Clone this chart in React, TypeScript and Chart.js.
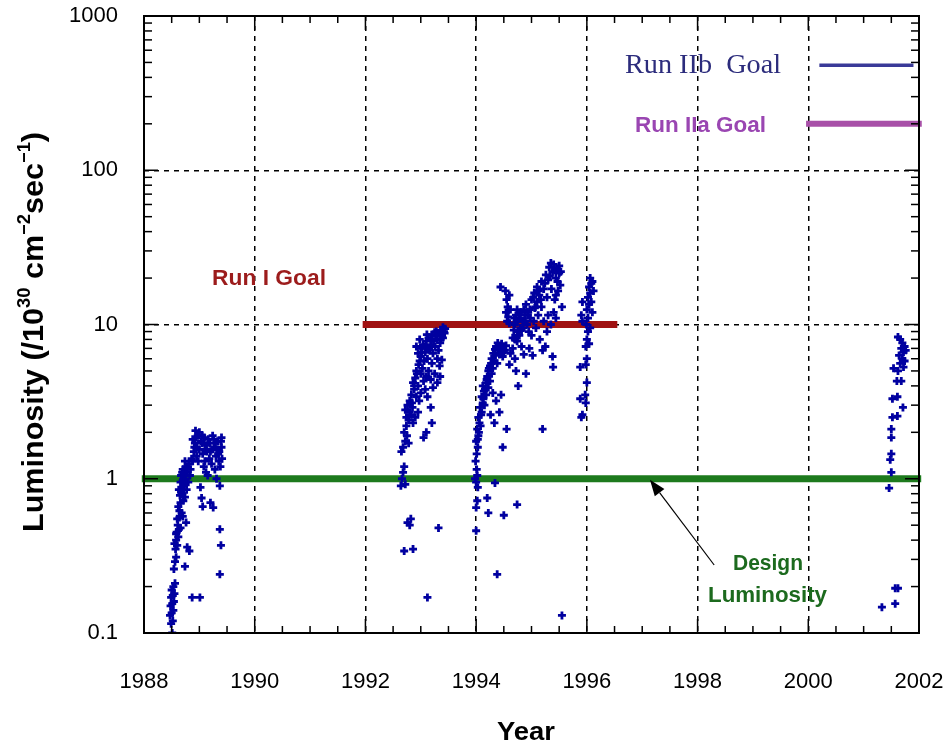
import React, { useEffect, useRef } from 'react';
import { Chart, registerables } from 'chart.js';

Chart.register(...registerables);

// ---- axis ticks ----
const xTickValues = [1988, 1990, 1992, 1994, 1996, 1998, 2000, 2002];
const xTickLabels = ['1988', '1990', '1992', '1994', '1996', '1998', '2000', '2002'];
const yTickValues = [0.1, 1, 10, 100, 1000];
const yTickLabels = ['0.1', '1', '10', '100', '1000'];

// ---- luminosity points per run period ----
const years1988 = [1988.51,1988.49,1988.52,1988.47,1988.50,1988.53,1988.48,1988.51,1988.54,1988.49,1988.52,1988.55,1988.50,1988.53,1988.56,1988.54,1988.56,1988.58,1988.74,1988.87,1989.01,1988.57,1988.60,1988.58,1988.62,1988.59,1988.63,1988.61,1988.66,1988.78,1988.82,1988.64,1988.70,1988.76,1988.68,1988.62,1988.66,1988.71,1988.65,1988.69,1988.74,1988.63,1988.68,1988.72,1988.77,1988.66,1988.70,1988.75,1988.80,1988.67,1988.73,1988.78,1988.83,1988.70,1988.76,1988.81,1988.74,1988.86,1988.90,1988.92,1988.93,1988.97,1989.00,1988.95,1989.03,1989.06,1989.10,1989.13,1989.08,1989.16,1989.20,1989.24,1989.27,1989.30,1989.33,1989.36,1989.40,1989.38,1989.41,1989.02,1989.04,1989.06,1989.20,1989.25,1989.15,1989.31,1989.37,1989.37,1989.39,1989.37,1988.98,1989.12,1989.22,1989.28,1989.35,1988.88,1988.95,1989.05,1989.10,1989.18,1989.26,1989.32,1989.40,
  1988.55,1988.58,1988.60,1988.64,1988.67,1988.72,1988.69,1988.75,1988.79,1988.84,1988.88,1988.91,1988.94,1989.00,1989.05,1989.09,1989.14,1989.19,1989.23,1989.29,1989.34,1989.39];
const lum1988 = [0.10,0.115,0.12,0.13,0.135,0.14,0.15,0.155,0.16,0.17,0.175,0.18,0.19,0.20,0.21,0.26,0.29,0.31,0.27,0.17,0.17,0.35,0.37,0.40,0.42,0.45,0.47,0.50,0.48,0.36,0.34,0.56,0.57,0.52,0.60,0.66,0.70,0.72,0.78,0.80,0.76,0.85,0.88,0.90,0.85,0.95,0.98,1.0,0.95,1.05,1.08,1.1,1.05,1.15,1.2,1.25,1.3,1.35,1.5,1.7,2.05,1.9,2.0,1.6,1.75,1.45,1.55,1.65,1.2,1.8,1.5,1.9,1.6,1.4,1.75,1.5,1.6,1.2,1.35,0.88,0.75,0.66,0.70,0.65,1.05,1.0,0.9,0.47,0.37,0.24,1.3,1.1,1.25,1.15,1.3,1.8,1.4,1.9,1.3,1.35,1.8,1.55,1.85,
  0.38,0.44,0.55,0.62,0.82,0.93,1.1,1.15,1.2,1.15,1.3,1.6,1.85,1.55,1.7,1.85,1.5,1.7,1.55,1.7,1.45,1.75];

const years1992 = [1992.64,1992.66,1992.68,1992.70,1992.72,1992.70,1992.86,1992.76,1992.80,1992.82,1993.12,1993.32,1992.65,1992.68,1992.72,1992.75,1992.78,1992.70,1992.74,1992.78,1992.82,1992.86,1992.72,1992.76,1992.80,1992.85,1992.90,1992.95,1993.05,1993.10,1992.83,1992.88,1992.92,1992.97,1993.00,1992.86,1992.90,1992.95,1993.00,1993.05,1993.08,1993.12,1993.18,1993.20,1992.92,1992.96,1993.00,1993.03,1993.06,1993.10,1993.14,1993.18,1993.22,1993.00,1993.04,1993.08,1993.12,1993.16,1993.20,1993.25,1993.30,1993.10,1993.14,1993.18,1993.22,1993.26,1993.30,1993.34,1993.20,1993.25,1993.30,1993.35,1993.38,1993.42,1993.44,1993.40,1993.36,1993.28,1993.32,1993.38,1993.35,1992.92,1992.95,1992.98,
  1992.74,1992.80,1992.84,1992.88,1992.93,1992.98,1993.02,1993.07,1993.11,1993.15,1993.19,1993.23,1993.27,1993.31,1993.36,1993.40,1993.43];
const lum1992 = [0.9,1.0,1.1,1.2,0.92,0.34,0.35,0.52,0.5,0.55,0.17,0.48,1.5,1.6,1.75,1.9,1.7,2.0,2.2,2.4,2.6,2.3,2.8,3.0,3.2,2.9,2.5,2.7,1.85,2.0,3.5,3.8,3.4,3.2,3.6,4.2,4.5,4.0,4.8,4.3,3.8,3.4,2.9,2.3,5.0,5.5,6.2,5.2,5.8,4.6,5.0,4.4,3.9,7.0,7.4,6.6,6.0,6.8,5.6,4.8,4.2,7.8,8.2,7.4,6.5,7.2,6.0,5.4,8.6,8.9,8.0,7.6,8.5,9.0,9.4,9.6,9.2,9.0,6.8,5.9,4.6,7.2,6.5,8.0,
  2.5,2.7,3.1,4.0,4.8,5.8,6.6,7.2,8.6,7.0,8.0,7.8,8.4,8.8,8.0,8.2,8.8];

const years1994 = [1993.98,1994.00,1994.02,1994.03,1994.01,1994.00,1994.02,1994.00,1994.20,1994.22,1994.34,1994.38,1994.50,1994.74,1995.55,1994.48,1994.55,1995.20,
  1993.99,1994.01,1994.03,1994.00,1994.04,1994.02,1994.06,1994.04,1994.08,1994.10,1994.07,1994.12,1994.10,1994.15,1994.14,1994.18,1994.12,1994.18,1994.22,1994.20,1994.25,1994.22,1994.28,1994.25,1994.30,1994.32,1994.28,1994.35,1994.38,1994.40,1994.36,1994.44,1994.48,1994.46,1994.50,1994.54,1994.30,1994.36,1994.42,1994.45,1994.26,1994.33,
  1994.44,1994.53,1994.55,1994.57,1994.54,1994.58,1994.56,1994.60,1994.62,1994.60,
  1994.60,1994.62,1994.66,1994.70,1994.72,1994.74,1994.76,1994.78,1994.80,1994.76,1994.82,1994.86,1994.90,1994.84,1994.88,1994.92,1994.95,1994.80,1994.86,1994.90,1994.94,1994.98,1995.00,1994.96,1995.02,1995.04,1995.06,1995.10,1995.08,1995.12,1995.15,1995.20,1995.18,1995.22,1995.25,1995.28,1995.30,1995.35,1995.38,1995.39,1995.40,1995.44,1995.42,
  1995.00,1995.05,1995.10,1995.14,1995.18,1995.22,1995.26,1995.30,1995.32,1995.35,1995.38,1995.40,1995.44,1995.46,1995.50,1995.52,1995.48,1995.55,1995.50,1995.36,1995.28,1995.44,
  1994.70,1994.72,1994.74,1994.78,1994.82,1994.74,1994.68,1994.70,
  1994.03,1994.05,1994.09,1994.13,1994.16,1994.19,1994.23,1994.27,1994.31,1994.34,1994.39,1994.42,1994.47,1994.52,1994.66,1994.69,1994.73,1994.77,1994.81,1994.85,1994.89,1994.93,1994.97,1995.03,1995.07,1995.13,1995.17,1995.24,1995.33,1995.42,1995.47,1995.53];
const lum1994 = [1.0,0.95,1.05,0.88,1.15,0.65,0.72,0.46,0.75,0.6,0.94,0.24,0.58,0.68,0.13,1.6,2.1,2.1,
  1.3,1.45,1.6,1.75,1.9,2.1,2.3,2.5,2.2,2.7,2.9,3.1,3.4,3.0,3.7,3.5,4.0,4.2,3.9,4.6,4.3,5.0,4.8,5.4,5.2,5.8,6.0,6.3,5.6,6.8,7.2,7.0,6.2,7.5,6.6,7.3,3.6,3.2,2.7,3.5,2.6,2.3,
  17.5,16.5,14.5,13.0,12.0,11.2,10.5,15.5,12.5,10.2,
  5.5,6.5,7.0,6.0,5.0,7.8,4.0,8.5,9.5,9.0,7.2,6.4,4.8,10.5,11.5,10.0,9.0,11.0,12.5,13.5,12.0,11.0,8.5,7.0,6.3,10.5,12.8,14.0,9.5,11.5,8.0,6.8,13.0,10.5,7.2,9.0,11.5,10.0,6.2,5.3,12.0,11.0,14.5,
  14.5,16.0,17.5,15.5,19.0,17.0,21.0,19.5,23.5,25.0,22.0,24.5,20.0,23.0,21.5,18.0,16.5,13.0,24.0,17.0,15.0,15.5,
  10.0,11.5,12.5,10.8,9.2,8.5,9.2,8.0,
  1.8,2.0,2.6,3.3,3.8,4.4,5.2,5.6,6.5,6.9,7.6,6.4,7.0,6.8,8.2,11.0,10.5,11.8,12.0,9.5,10.5,11.5,12.5,15.0,13.0,16.5,14.5,18.5,20.5,22.5,19.0,22.0];

const years1996 = [1995.88,1995.88,1995.90,1995.92,1995.92,1995.90,1995.92,1995.97,1995.98,1996.00,1995.98,1996.00,1995.98,1996.00,1996.02,1995.99,1996.02,1996.00,1996.04,1996.02,1996.06,1996.04,1996.08,1996.06,1996.10,1996.08,1996.10,1996.06,1996.04,1996.12];
const lum1996 = [5.3,3.3,2.5,2.6,14.0,11.5,10.5,3.5,3.1,4.2,5.5,6.0,7.2,8.0,9.0,10.0,11.0,12.5,13.5,15.0,16.0,17.5,18.5,20.0,19.0,14.0,12.0,9.5,7.5,16.5];

const years2001 = [2001.33,2001.57,2001.57,2001.62,2001.46,2001.50,2001.48,2001.50,2001.50,2001.50,2001.52,2001.61,2001.71,2001.52,2001.61,2001.60,2001.68,2001.54,2001.62,2001.66,2001.70,2001.64,2001.72,2001.68,2001.74,2001.70,2001.66,2001.62,2001.76,2001.74,2001.72];
const lum2001 = [0.147,0.155,0.195,0.195,0.87,1.1,1.33,1.45,1.85,2.1,2.5,2.55,2.9,3.3,3.4,4.3,4.3,5.2,5.0,5.6,6.0,6.3,6.6,7.0,7.2,7.6,8.0,8.3,6.8,5.8,5.3];

// ---- goal lines ----
const runIGoalYears = [1991.95, 1996.55];
const runIGoalLevel = 10;
const runIIaGoalYears = [1999.96, 2002.05];
const runIIaGoalLevel = 200;
const runIIbGoalYears = [2000.2, 2001.9];
const runIIbGoalLevel = 480;
const designYears = [1987.96, 2002.04];
const designLevel = 1;

// ---- texts ----
const xTitle = 'Year';
const yTitleParts = [
  { t: 'Luminosity (/10', sup: false },
  { t: '30', sup: true },
  { t: ' cm', sup: false },
  { t: '\u22122', sup: true },
  { t: 'sec', sup: false },
  { t: '\u22121', sup: true },
  { t: ')', sup: false },
];
const labelRunIIb = 'Run IIb  Goal';
const labelRunIIa = 'Run IIa Goal';
const labelRunI = 'Run I Goal';
const labelDesign1 = 'Design';
const labelDesign2 = 'Luminosity';

const SANS = '"Liberation Sans", Arial, Helvetica, sans-serif';
const SERIF = '"Liberation Serif", "Times New Roman", serif';

function pts(xs: number[], ys: number[]) {
  return xs.map((x, i) => ({ x, y: ys[i] }));
}

function fitText(ctx: CanvasRenderingContext2D, text: string, x: number, y: number, w: number) {
  const m = ctx.measureText(text).width;
  const s = w / m;
  ctx.save();
  ctx.translate(x, y);
  ctx.scale(s, 1);
  ctx.textAlign = 'left';
  ctx.fillText(text, 0, 0);
  ctx.restore();
}

const decorPlugin = {
  id: 'decor',
  afterDraw(chart: any) {
    const { ctx, chartArea: a, scales } = chart;
    const xs = scales.x;
    const ys = scales.y;
    ctx.save();
    ctx.strokeStyle = '#000';
    ctx.lineWidth = 1.5;
    const seg = (x1: number, y1: number, x2: number, y2: number) => {
      ctx.beginPath();
      ctx.moveTo(x1, y1);
      ctx.lineTo(x2, y2);
      ctx.stroke();
    };
    // x ticks (every half year)
    for (let k = 0; k <= 28; k++) {
      const v = 1988 + k * 0.5;
      const px = xs.getPixelForValue(v);
      const len = k % 4 === 0 ? 14 : 7;
      seg(px, a.bottom, px, a.bottom - len);
      seg(px, a.top, px, a.top + len);
    }
    // y ticks (log)
    for (const d of [0.1, 1, 10, 100]) {
      for (let m = 1; m <= 9; m++) {
        const py = ys.getPixelForValue(d * m);
        const len = m === 1 ? 14 : 8;
        seg(a.left, py, a.left + len, py);
        seg(a.right, py, a.right - len, py);
      }
    }
    // frame
    ctx.lineWidth = 2;
    ctx.strokeRect(a.left, a.top, a.right - a.left, a.bottom - a.top);

    // arrow to design luminosity line
    const tipX = xs.getPixelForValue(1997.14);
    const tipY = ys.getPixelForValue(0.985);
    const tailX = xs.getPixelForValue(1998.3);
    const tailY = ys.getPixelForValue(0.276);
    ctx.lineWidth = 1.2;
    const ang = Math.atan2(tipY - tailY, tipX - tailX);
    const hl = 16, hw = 6;
    const bx = tipX - hl * Math.cos(ang), by = tipY - hl * Math.sin(ang);
    seg(tailX, tailY, bx, by);
    ctx.fillStyle = '#000';
    ctx.beginPath();
    ctx.moveTo(tipX, tipY);
    ctx.lineTo(bx + hw * Math.sin(ang), by - hw * Math.cos(ang));
    ctx.lineTo(bx - hw * Math.sin(ang), by + hw * Math.cos(ang));
    ctx.closePath();
    ctx.fill();

    // annotation texts
    ctx.textBaseline = 'alphabetic';
    ctx.fillStyle = '#2c2c7c';
    ctx.font = `27px ${SERIF}`;
    fitText(ctx, labelRunIIb, 625, 73, 156);

    ctx.fillStyle = '#9a46b2';
    ctx.font = `bold 22px ${SANS}`;
    fitText(ctx, labelRunIIa, 635, 132, 131);

    ctx.fillStyle = '#9c1c1c';
    ctx.font = `bold 22px ${SANS}`;
    fitText(ctx, labelRunI, 212, 285, 114);

    ctx.fillStyle = '#1c6a1e';
    ctx.font = `bold 22px ${SANS}`;
    fitText(ctx, labelDesign1, 733, 570, 70);
    fitText(ctx, labelDesign2, 708, 602, 119);

    // x title
    ctx.fillStyle = '#000';
    ctx.font = `bold 26px ${SANS}`;
    fitText(ctx, xTitle, 497, 740, 58);

    // y title (rotated, with superscripts)
    const big = `bold 30px ${SANS}`;
    const small = `bold 18px ${SANS}`;
    let total = 0;
    const widths = yTitleParts.map((p) => {
      ctx.font = p.sup ? small : big;
      const w = ctx.measureText(p.t).width;
      total += w;
      return w;
    });
    const span = 400;
    const sc = span / total;
    ctx.save();
    ctx.translate(43, 532);
    ctx.rotate(-Math.PI / 2);
    ctx.scale(sc, 1);
    let cx = 0;
    yTitleParts.forEach((p, i) => {
      ctx.font = p.sup ? small : big;
      ctx.fillText(p.t, cx, p.sup ? -13 : 0);
      cx += widths[i];
    });
    ctx.restore();

    ctx.restore();
  },
};

export default function App() {
  const ref = useRef<HTMLCanvasElement | null>(null);
  useEffect(() => {
    const canvas = ref.current;
    if (!canvas) return;
    const pointStyle = {
      pointStyle: 'cross',
      pointRadius: 4,
      pointBorderWidth: 2.8,
      pointBorderColor: '#0000a0',
      pointBackgroundColor: '#0000a0',
      showLine: false,
      order: 0,
    };
    const goal = (xsArr: number[], level: number, color: string, width: number) => ({
      data: xsArr.map((x) => ({ x, y: level })),
      showLine: true,
      borderColor: color,
      borderWidth: width,
      borderCapStyle: 'butt',
      pointRadius: 0,
      clip: false,
      order: 1,
    });
    const chart = new Chart(canvas, {
      type: 'scatter',
      data: {
        datasets: [
          goal(designYears, designLevel, '#1d7a1d', 7) as any,
          goal(runIGoalYears, runIGoalLevel, '#a01212', 7) as any,
          goal(runIIaGoalYears, runIIaGoalLevel, '#a850a8', 6) as any,
          goal(runIIbGoalYears, runIIbGoalLevel, '#3a3a98', 3.5) as any,
          { data: pts(years1988, lum1988), ...pointStyle } as any,
          { data: pts(years1992, lum1992), ...pointStyle } as any,
          { data: pts(years1994, lum1994), ...pointStyle } as any,
          { data: pts(years1996, lum1996), ...pointStyle } as any,
          { data: pts(years2001, lum2001), ...pointStyle } as any,
        ],
      },
      options: {
        responsive: false,
        animation: false,
        events: [],
        layout: { padding: { top: 16, right: 26, left: 0, bottom: 0 } },
        plugins: { legend: { display: false }, tooltip: { enabled: false }, title: { display: false } },
        scales: {
          x: {
            type: 'linear',
            min: 1988,
            max: 2002,
            afterBuildTicks: (s: any) => {
              s.ticks = xTickValues.map((v) => ({ value: v }));
            },
            afterFit: (s: any) => {
              s.height = 111;
              s.paddingLeft = 0;
              s.paddingRight = 0;
            },
            ticks: {
              autoSkip: false,
              maxRotation: 0,
              padding: 36,
              color: '#000',
              font: { family: SANS, size: 22 },
              callback: (_v: any, i: number) => xTickLabels[i],
            },
            grid: {
              drawTicks: false,
              lineWidth: 1.5,
              color: (c: any) =>
                c.tick && (c.tick.value === 1988 || c.tick.value === 2002) ? 'rgba(0,0,0,0)' : '#000',
            },
            border: { display: false, dash: [5, 5] },
          },
          y: {
            type: 'logarithmic',
            min: 0.1,
            max: 1000,
            afterBuildTicks: (s: any) => {
              s.ticks = yTickValues.map((v) => ({ value: v }));
            },
            afterFit: (s: any) => {
              s.width = 144;
              s.paddingTop = 0;
              s.paddingBottom = 0;
            },
            ticks: {
              autoSkip: false,
              padding: 26,
              color: '#000',
              font: { family: SANS, size: 22 },
              callback: (_v: any, i: number) => yTickLabels[i],
            },
            grid: {
              drawTicks: false,
              lineWidth: 1.5,
              color: (c: any) =>
                c.tick && (c.tick.value === 0.1 || c.tick.value === 1000) ? 'rgba(0,0,0,0)' : '#000',
            },
            border: { display: false, dash: [5, 5] },
          },
        },
      },
      plugins: [decorPlugin],
    } as any);
    return () => chart.destroy();
  }, []);
  return (
    <div style={{ position: 'fixed', left: 0, top: 0, width: 945, height: 744, background: '#fff' }}>
      <canvas ref={ref} width={945} height={744} style={{ display: 'block' }} />
    </div>
  );
}
